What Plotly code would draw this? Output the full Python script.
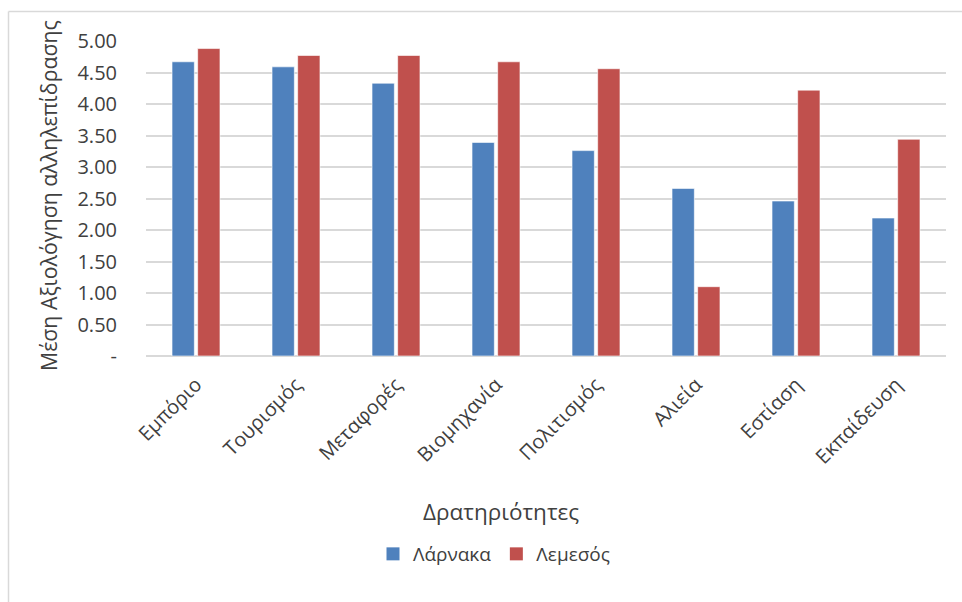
import plotly.graph_objects as go

categories = ["Εμπόριο", "Τουρισμός", "Μεταφορές", "Βιομηχανία", "Πολιτισμός", "Αλιεία", "Εστίαση", "Εκπαίδευση"]
larnaka = [4.67, 4.59, 4.33, 3.39, 3.26, 2.66, 2.46, 2.19]
lemesos = [4.88, 4.77, 4.77, 4.67, 4.56, 1.10, 4.22, 3.44]
series_names = ["Λάρνακα", "Λεμεσός"]
series_colors = ["#4F81BD", "#C0504D"]
y_tickvals = [0, 0.5, 1.0, 1.5, 2.0, 2.5, 3.0, 3.5, 4.0, 4.5, 5.0]
y_ticktext = ["-", "0.50", "1.00", "1.50", "2.00", "2.50", "3.00", "3.50", "4.00", "4.50", "5.00"]

FONT = "Open Sans"
TXT = "#404040"
W, H = 962, 602
L, R, T, B = 146, 16, 41, 246
pw, ph = W - L - R, H - T - B

def px_x(x):
    return (x - L) / pw

def px_y(y):
    return (H - B - y) / ph

fig = go.Figure()
for vals, name, col in zip([larnaka, lemesos], series_names, series_colors):
    fig.add_trace(go.Bar(x=categories, y=vals, name=name, showlegend=False,
                         marker=dict(color=col, line=dict(color="rgba(255,255,255,0.6)", width=1))))
# legend entries with larger square keys
for name, col in zip(series_names, series_colors):
    fig.add_trace(go.Scatter(x=[None], y=[None], mode="markers", name=name,
                             marker=dict(symbol="square", size=13, color=col)))

fig.update_layout(
    width=W, height=H,
    margin=dict(l=L, r=R, t=T, b=B, pad=0),
    paper_bgcolor="white", plot_bgcolor="white",
    barmode="group", bargap=0.487, bargroupgap=0.13,
    font=dict(family=FONT, color=TXT),
    showlegend=True,
    legend=dict(orientation="h", x=px_x(494), xanchor="center", y=px_y(554), yanchor="middle",
                font=dict(size=19, color=TXT), itemwidth=30, traceorder="normal",
                tracegroupgap=0),
    xaxis=dict(tickangle=-45, tickfont=dict(size=20, color=TXT), showgrid=False,
               showline=False, ticks="", ticklabelstandoff=12),
    yaxis=dict(range=[0, 5], tickvals=y_tickvals, ticktext=y_ticktext,
               tickfont=dict(size=20, color=TXT), showgrid=True, gridcolor="#d9d9d9", gridwidth=2,
               zeroline=True, zerolinecolor="#d9d9d9", zerolinewidth=2,
               showline=False, ticks="", ticklabelstandoff=28),
    annotations=[
        dict(text="Μέση Αξιολόγηση αλληλεπίδρασης", textangle=-90, xref="paper", yref="paper",
             x=px_x(48), y=px_y(196), xanchor="center", yanchor="middle", showarrow=False,
             font=dict(size=21.3, color=TXT)),
        dict(text="Δρατηριότητες", xref="paper", yref="paper",
             x=px_x(501), y=px_y(511), xanchor="center", yanchor="middle", showarrow=False,
             font=dict(size=22.5, color=TXT)),
    ],
    shapes=[
        dict(type="line", xref="paper", yref="paper", x0=px_x(8.5), x1=px_x(980), y0=px_y(11.5), y1=px_y(11.5),
             line=dict(color="#d9d9d9", width=1.5)),
        dict(type="line", xref="paper", yref="paper", x0=px_x(8.5), x1=px_x(8.5), y0=px_y(11.5), y1=px_y(620),
             line=dict(color="#d9d9d9", width=1.5)),
    ],
)

fig.write_html("out.html")
